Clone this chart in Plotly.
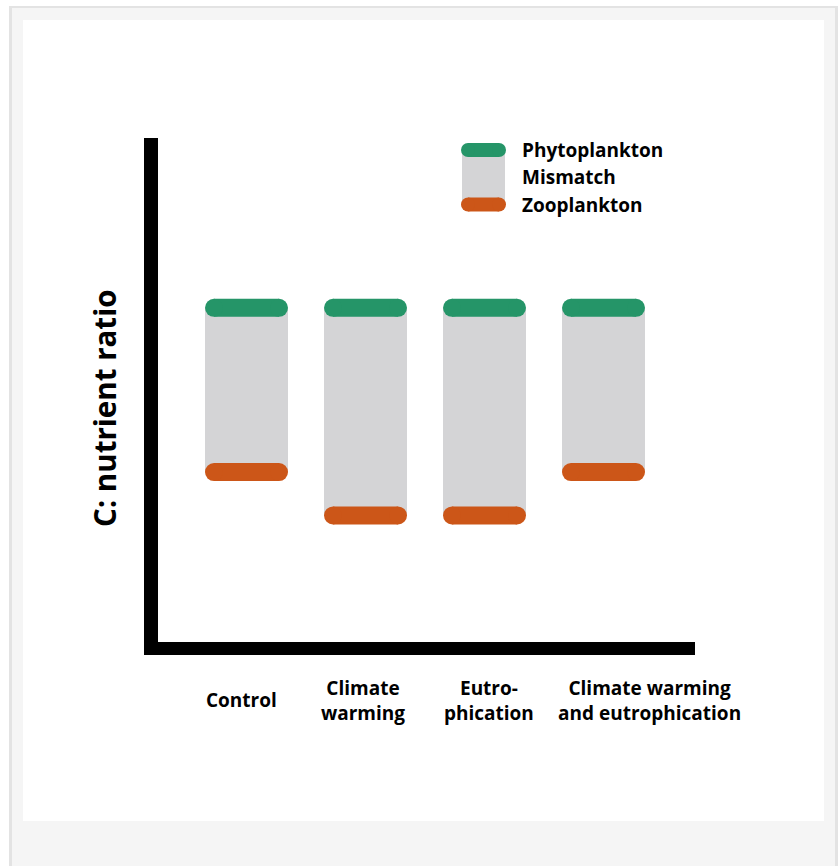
import plotly.graph_objects as go

# ---- data ----
categories = ["Control", "Climate warming", "Eutrophication", "Climate warming and eutrophication"]
cat_labels = ["Control", "Climate<br>warming", "Eutro-<br>phication", "Climate warming<br>and eutrophication"]
phyto = [6.67, 6.67, 6.67, 6.67]
zoo = [3.45, 2.6, 2.6, 3.45]
legend_labels = ["Phytoplankton", "Mismatch", "Zooplankton"]
y_title = "C: nutrient ratio"

GREEN = "#259568"
ORANGE = "#cc5618"
GRAY = "#d4d4d6"
FONT = "Open Sans"

W, H = 838, 866
# pixel <-> data mapping (plot area fills the whole figure)
X0PX, XSTEP = 246.5, 119.0
Y0PX, YSTEP = 648.0, 51.0


def dx(p):
    return (p - X0PX) / XSTEP


def dy(p):
    return (Y0PX - p) / YSTEP


xpos = list(range(len(categories)))
bar_w = 83 / XSTEP
cap_half = (41.5 - 9) / XSTEP

fig = go.Figure()

# mismatch (gray) bars
fig.add_trace(go.Bar(
    x=xpos, y=[p - z for p, z in zip(phyto, zoo)], base=zoo, width=bar_w,
    marker=dict(color=GRAY, line=dict(width=0)), hoverinfo="skip", showlegend=False,
))


def pill_trace(ys, color, size):
    xs, yy = [], []
    for i, v in zip(xpos, ys):
        xs += [i - cap_half, i + cap_half, None]
        yy += [v, v, None]
    return go.Scatter(
        x=xs, y=yy, mode="lines+markers",
        line=dict(color=color, width=size),
        marker=dict(color=color, size=size, line=dict(width=0)),
        hoverinfo="skip", showlegend=False,
    )


fig.add_trace(pill_trace(phyto, GREEN, 18))
fig.add_trace(pill_trace(zoo, ORANGE, 18))

# legend swatches
lg_half = (22.5 - 7) / XSTEP
lg_cx = dx(483.5)
fig.add_shape(type="rect", x0=dx(462), x1=dx(505), y0=dy(150), y1=dy(204.5),
              fillcolor=GRAY, line=dict(width=0), layer="below")
fig.add_trace(go.Scatter(x=[lg_cx - lg_half, lg_cx + lg_half], y=[dy(150)] * 2, mode="lines+markers",
                         line=dict(color=GREEN, width=14), marker=dict(color=GREEN, size=14),
                         hoverinfo="skip", showlegend=False))
fig.add_trace(go.Scatter(x=[lg_cx - lg_half, lg_cx + lg_half], y=[dy(204.5)] * 2, mode="lines+markers",
                         line=dict(color=ORANGE, width=14), marker=dict(color=ORANGE, size=14),
                         hoverinfo="skip", showlegend=False))

shapes = [
    # page frame
    dict(type="rect", xref="paper", yref="paper", x0=9 / W, x1=1, y0=0, y1=1 - 6 / H,
         fillcolor="#e3e3e3", line=dict(width=0), layer="below"),
    dict(type="rect", xref="paper", yref="paper", x0=12 / W, x1=835 / W, y0=0, y1=1 - 8 / H,
         fillcolor="#f5f5f5", line=dict(width=0), layer="below"),
    dict(type="rect", xref="paper", yref="paper", x0=23 / W, x1=824 / W, y0=1 - 821 / H, y1=1 - 20 / H,
         fillcolor="white", line=dict(width=0), layer="below"),
    # axis lines
    dict(type="rect", x0=dx(144), x1=dx(158), y0=dy(655), y1=dy(138),
         fillcolor="black", line=dict(width=0), layer="above"),
    dict(type="rect", x0=dx(144), x1=dx(695), y0=dy(655), y1=dy(642),
         fillcolor="black", line=dict(width=0), layer="above"),
]
for s in shapes:
    fig.add_shape(**s)

annotations = []
label_px = [(241, 700), (363, 700), (489, 700), (649, 700)]
for lab, (px, py) in zip(cat_labels, label_px):
    annotations.append(dict(x=dx(px), y=dy(py), text=lab, showarrow=False,
                            xanchor="center", yanchor="middle", align="center",
                            font=dict(family=FONT, size=19, color="black", weight="bold")))
for lab, py in zip(legend_labels, [150, 177, 205]):
    annotations.append(dict(x=dx(520), y=dy(py), text=lab, showarrow=False,
                            xanchor="left", yanchor="middle",
                            font=dict(family=FONT, size=19, color="black", weight="bold")))
annotations.append(dict(x=dx(104), y=dy(409), text=y_title, showarrow=False, textangle=-90,
                        xanchor="center", yanchor="middle",
                        font=dict(family=FONT, size=29.5, color="black", weight="bold")))

fig.update_layout(
    width=W, height=H, margin=dict(l=0, r=0, t=0, b=0),
    paper_bgcolor="white", plot_bgcolor="rgba(0,0,0,0)",
    xaxis=dict(range=[dx(0), dx(W)], domain=[0, 1], visible=False, fixedrange=True),
    yaxis=dict(range=[dy(H), dy(0)], domain=[0, 1], visible=False, fixedrange=True),
    annotations=annotations, showlegend=False, bargap=0,
)

fig.write_html("out.html", config={"displayModeBar": False},
               post_script="document.body.style.margin='0';")
